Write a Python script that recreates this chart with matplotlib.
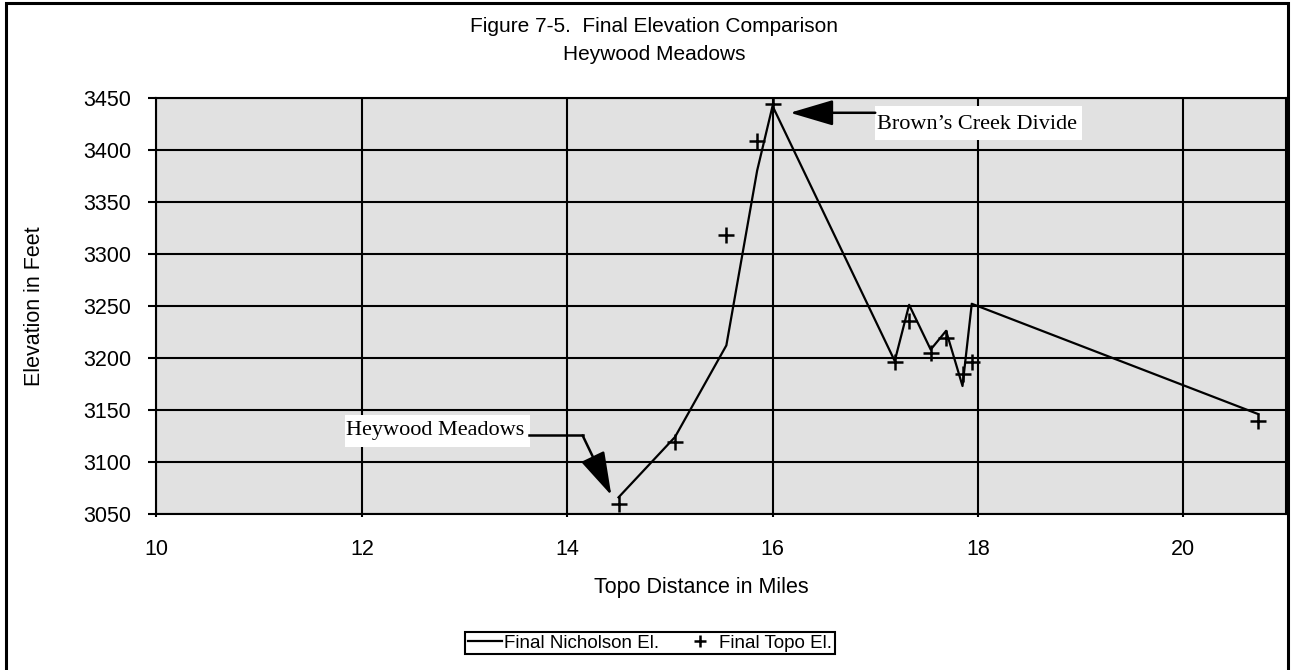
import numpy as np
import matplotlib
matplotlib.use('Agg')
import matplotlib.pyplot as plt
from matplotlib.patches import Rectangle
from matplotlib.lines import Line2D

# data
topo_miles = [14.50, 15.05, 15.55, 15.85, 16.00, 17.19, 17.33, 17.54, 17.69, 17.85, 17.94, 20.73]
nicholson_el = [3066, 3124, 3212, 3380, 3442, 3197, 3251, 3208, 3226, 3173, 3252, 3146]
topo_el = [3060, 3119, 3318, 3408, 3444, 3196, 3235, 3205, 3219, 3185, 3196, 3139]

x_ticks = [10, 12, 14, 16, 18, 20]
y_ticks = [3050, 3100, 3150, 3200, 3250, 3300, 3350, 3400, 3450]

plt.rcParams['font.family'] = ['Liberation Sans', 'DejaVu Sans']
FS = 15

fig = plt.figure(figsize=(12.91, 6.70), dpi=100)
ax = fig.add_axes([0.1212, 0.2328, 0.9961 - 0.1212, 0.8542 - 0.2328])
ax.set_facecolor('#e1e1e1')

ax.plot(topo_miles, nicholson_el, '-', color='black', lw=1.6, label='Final Nicholson El.', zorder=3)
ax.plot(topo_miles, topo_el, '+', color='black', ms=11, mew=1.8, label='Final Topo El.', zorder=4)

ax.set_xlim(10, 21)
ax.set_ylim(3050, 3450)
ax.set_xticks(x_ticks)
ax.set_yticks(y_ticks)
ax.grid(True, color='black', lw=1.5)
ax.set_axisbelow(True)
for s in ax.spines.values():
    s.set_linewidth(1.5)
ax.tick_params(axis='y', direction='out', length=6, width=1.5, pad=12, labelsize=15.5)
ax.tick_params(axis='x', direction='out', length=2, width=1.5, pad=16, labelsize=15.5)

# annotations (white label boxes + arrows)
serif = ['Liberation Serif', 'DejaVu Serif']
arrow = dict(arrowstyle='-|>,head_length=2.7,head_width=0.8', color='black', lw=1.8,
             shrinkA=0, shrinkB=0)

ax.add_patch(Rectangle((17.0, 3409.7), 2.016, 32.3, fc='white', ec='none', zorder=5))
ax.text(17.02, 3420.3, 'Brown\u2019s Creek Divide', family=serif, fontsize=16,
        ha='left', va='baseline', zorder=6)
ax.annotate('', xy=(topo_miles[4] + 0.17, 3435.5), xytext=(17.0, 3435.5),
            arrowprops=arrow, zorder=5)

ax.add_patch(Rectangle((11.834, 3114.3), 1.8, 31.3, fc='white', ec='none', zorder=5))
ax.text(11.85, 3126.4, 'Heywood Meadows', family=serif, fontsize=16,
        ha='left', va='baseline', zorder=6)
ax.plot([13.63, 14.15], [3125.5, 3125.5], color='black', lw=1.8, zorder=5)
ax.annotate('', xy=(topo_miles[0] - 0.07, nicholson_el[0] + 2), xytext=(14.15, 3125.5),
            arrowprops=arrow, zorder=5)

# titles and axis labels
fig.text(654 / 1291, 1 - 26 / 670, 'Figure 7-5.  Final Elevation Comparison',
         ha='center', va='center', fontsize=FS)
fig.text(654 / 1291, 1 - 54 / 670, 'Heywood Meadows', ha='center', va='center', fontsize=FS)
fig.text(701 / 1291, 1 - 587 / 670, 'Topo Distance in Miles', ha='center', va='center', fontsize=15.5)
fig.text(35 / 1291, 1 - 306 / 670, 'Elevation in Feet', ha='center', va='center',
         rotation=90, fontsize=15.5)

handles = [Line2D([], [], color='black', lw=1.6),
           Line2D([], [], color='black', marker='+', ls='none', ms=9, mew=1.8)]
leg = fig.legend(handles, ['Final Nicholson El.', 'Final Topo El.'], loc='center',
                 bbox_to_anchor=(650 / 1291, 1 - 643 / 670), ncol=2, fontsize=13.5,
                 frameon=True, fancybox=False, framealpha=1, edgecolor='black',
                 borderpad=0.15, handlelength=1.8, handletextpad=0.1,
                 columnspacing=1.3, borderaxespad=0)
leg.get_frame().set_linewidth(1.5)

# outer chart frame
fig.patches.append(Rectangle((6 / 1291, -0.05), 1 - 9 / 1291, 1.05 - 3 / 670,
                             transform=fig.transFigure, fill=False, ec='black', lw=2.2))

fig.savefig('out.png', dpi=100)
